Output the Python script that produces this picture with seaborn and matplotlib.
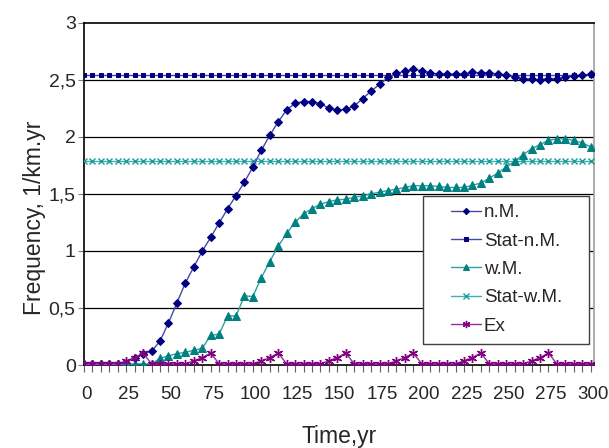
import numpy as np
import pandas as pd
import matplotlib
matplotlib.use("Agg")
import matplotlib.pyplot as plt
import matplotlib.transforms as mtransforms
from matplotlib.patches import Rectangle
import seaborn as sns

# time axis, every 5 years
years = list(range(0, 305, 5))

n_m = [0.01, 0.01, 0.01, 0.01, 0.01, 0.02, 0.065, 0.10, 0.12, 0.21,
       0.368, 0.544, 0.718, 0.859, 0.997, 1.118, 1.244, 1.368, 1.485, 1.603,
       1.735, 1.882, 2.012, 2.132, 2.235, 2.294, 2.309, 2.309, 2.291, 2.25,
       2.235, 2.24, 2.27, 2.335, 2.40, 2.46, 2.52, 2.555, 2.575, 2.59,
       2.58, 2.56, 2.55, 2.55, 2.55, 2.55, 2.565, 2.56, 2.56, 2.55,
       2.54, 2.525, 2.51, 2.505, 2.50, 2.51, 2.51, 2.52, 2.535, 2.54,
       2.55]

w_m = [0.005, 0.005, 0.005, 0.005, 0.005, 0.005, 0.01, 0.01, 0.01, 0.058,
       0.08, 0.10, 0.11, 0.13, 0.145, 0.26, 0.27, 0.43, 0.43, 0.606,
       0.60, 0.765, 0.906, 1.041, 1.153, 1.25, 1.324, 1.371, 1.409, 1.432,
       1.447, 1.453, 1.47, 1.482, 1.50, 1.515, 1.529, 1.541, 1.556, 1.571,
       1.571, 1.571, 1.565, 1.556, 1.556, 1.556, 1.576, 1.594, 1.638, 1.682,
       1.735, 1.785, 1.844, 1.894, 1.932, 1.968, 1.982, 1.982, 1.968, 1.947,
       1.912]

ex = [0.01, 0.01, 0.01, 0.01, 0.01, 0.035, 0.065, 0.105, 0.01, 0.01,
      0.01, 0.01, 0.01, 0.035, 0.065, 0.105, 0.01, 0.01, 0.01, 0.01,
      0.01, 0.035, 0.065, 0.105, 0.01, 0.01, 0.01, 0.01, 0.01, 0.035,
      0.065, 0.105, 0.01, 0.01, 0.01, 0.01, 0.01, 0.035, 0.065, 0.105,
      0.01, 0.01, 0.01, 0.01, 0.01, 0.035, 0.065, 0.105, 0.01, 0.01,
      0.01, 0.01, 0.01, 0.035, 0.065, 0.105, 0.01, 0.01, 0.01, 0.01,
      0.01]

stat_n_m = [2.54] * len(years)
stat_w_m = [1.79] * len(years)

y_ticks = [0, 0.5, 1, 1.5, 2, 2.5, 3]
y_tick_labels = ["0", "0,5", "1", "1,5", "2", "2,5", "3"]


def main():
    sns.set_theme(style="white")
    plt.rcParams["font.family"] = ["Liberation Sans", "DejaVu Sans"]

    df = pd.DataFrame({"Time": years, "n.M.": n_m, "Stat-n.M.": stat_n_m,
                       "w.M.": w_m, "Stat-w.M.": stat_w_m, "Ex": ex})

    fig = plt.figure(figsize=(6.09, 4.48), dpi=100)
    ax = fig.add_axes([84 / 609, 1 - 365 / 448, 510 / 609, 342.3 / 448])

    # horizontal grid lines
    for v in y_ticks[1:-1]:
        ax.axhline(v, color="black", lw=0.9, zorder=1)

    sns.lineplot(data=df, x="Time", y="n.M.", ax=ax, label="n.M.",
                 color="#4848a8", lw=1, marker="D", markersize=4,
                 markerfacecolor="#000080", markeredgecolor="#000080", zorder=5)
    sns.lineplot(data=df, x="Time", y="Stat-n.M.", ax=ax, label="Stat-n.M.",
                 color="#4848a8", lw=1, marker="s", markersize=3,
                 markerfacecolor="#000080", markeredgecolor="#000080", zorder=4)
    sns.lineplot(data=df, x="Time", y="w.M.", ax=ax, label="w.M.",
                 color="#30a0a0", lw=1, marker="^", markersize=5.5,
                 markerfacecolor="#008080", markeredgecolor="#008080", zorder=5)
    sns.lineplot(data=df, x="Time", y="Stat-w.M.", ax=ax, label="Stat-w.M.",
                 color="#40b0b0", lw=1, marker="x", markersize=5,
                 markeredgewidth=1, markeredgecolor="#1a9a9a", zorder=4)
    sns.lineplot(data=df, x="Time", y="Ex", ax=ax, label="Ex",
                 color="#9030a0", lw=1, marker=(6, 2, 0), markersize=6.5,
                 markeredgewidth=1, markeredgecolor="#800080", zorder=6)

    ax.set_xlim(0, 302)
    ax.set_ylim(0, 3)

    ax.set_xticks(range(0, 301, 25))
    ax.set_xticks(years, minor=True)
    ax.set_yticks(y_ticks)
    ax.set_yticklabels(y_tick_labels)
    ax.tick_params(axis="x", which="both", direction="out", length=5,
                   width=0.8, color="#606060", pad=10, labelsize=13.5,
                   bottom=True)
    ax.tick_params(axis="y", direction="out", length=4, width=0.8,
                   color="#808080", pad=2, labelsize=14, left=True)
    shift = mtransforms.ScaledTranslation(0.025, 0, fig.dpi_scale_trans)
    for lab in ax.get_xticklabels():
        lab.set_transform(lab.get_transform() + shift)

    ax.set_xlabel("Time,yr", fontsize=16.5)
    ax.set_ylabel("Frequency, 1/km.yr", fontsize=16.5)
    ax.xaxis.set_label_coords(0.5, (365 - 425) / 342.3)
    ax.yaxis.set_label_coords((46 - 84) / 510, (365 - 218) / 342.3)

    for side in ["left", "bottom", "top"]:
        ax.spines[side].set_color("black")
        ax.spines[side].set_linewidth(1.2)
    ax.spines["right"].set_color("#a0a0a0")
    ax.spines["right"].set_linewidth(1.2)

    # legend box drawn separately, entries placed inside it
    box = Rectangle(((423 - 84) / 510, (365 - 344) / 342.3), 166 / 510, 148 / 342.3,
                    transform=ax.transAxes, facecolor="white",
                    edgecolor="#404040", lw=1, zorder=8)
    ax.add_patch(box)
    leg = ax.legend(loc="upper left", bbox_to_anchor=((451 - 84) / 510, (365 - 204) / 342.3),
                    frameon=False, fontsize=13.5, handlelength=1.6,
                    handletextpad=0.15, labelspacing=0.6, borderpad=0,
                    borderaxespad=0, markerscale=0.8)
    leg.set_zorder(9)

    fig.savefig("out.png", dpi=100)


if __name__ == "__main__":
    main()
